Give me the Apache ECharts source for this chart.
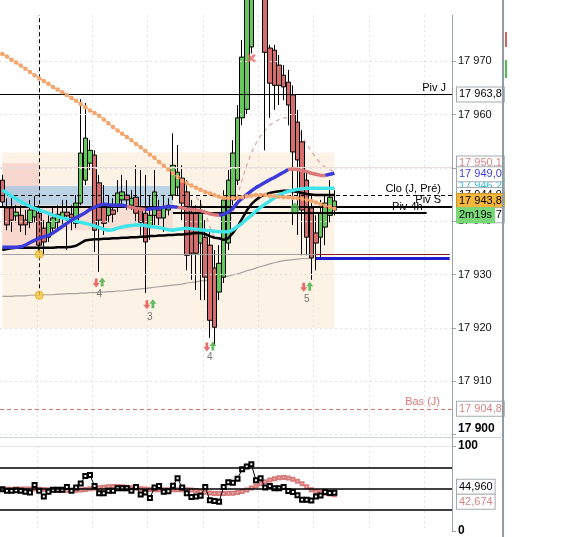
<!DOCTYPE html>
<html><head><meta charset="utf-8">
<script src="https://cdn.jsdelivr.net/npm/echarts@6/dist/echarts.min.js"></script>
<style>html,body{margin:0;padding:0;background:#fff}#c{width:572px;height:537px}</style>
</head><body><div id="c"></div>
<script>
// ---------- DATA ----------
const N_CAT = 98;
const opens = [17947.7,17942.5,17942.5,17941.0,17941.1,17940.2,17939.8,17940.8,17941.5,17938.7,
17937.0,17938.7,17939.8,17940.6,17941.7,17941.3,17939.6,17943.4,17947.7,17950.9,
17952.4,17947.2,17943.0,17941.1,17942.1,17943.0,17944.0,17944.9,17943.0,17944.5,
17942.5,17941.5,17938.9,17941.1,17942.1,17940.6,17942.1,17944.9,17946.4,17948.1,
17945.5,17941.7,17941.5,17935.9,17937.0,17935.5,17931.2,17926.7,17929.5,17935.9,
17944.0,17947.7,17959.4,17961.0,17972.7,17985.0,17990.0,17984.0,17972.5,17972.1,
17969.3,17967.4,17966.1,17963.7,17958.6,17954.9,17947.7,17942.5,17937.8,17937.0,
17938.9,17941.1,17942.1];
const closes = [17943.6,17939.3,17940.2,17941.7,17939.3,17939.3,17942.1,17942.1,17935.5,17936.1,
17939.8,17940.6,17941.3,17941.7,17941.0,17940.6,17943.4,17952.8,17955.6,17953.3,
17938.3,17940.2,17939.6,17943.0,17941.3,17945.3,17945.5,17944.0,17944.3,17941.5,
17939.8,17936.1,17941.1,17945.5,17940.6,17942.5,17943.0,17950.5,17949.2,17943.4,
17933.6,17934.0,17934.0,17941.7,17929.5,17921.4,17920.1,17932.1,17944.0,17947.7,
17952.8,17959.4,17970.8,17982.0,17985.0,17990.0,17984.0,17971.7,17965.9,17965.5,
17965.5,17965.2,17961.8,17953.0,17951.5,17942.1,17937.0,17933.1,17935.9,17941.5,
17943.4,17944.5,17943.8];
const lows = [17942.8,17938.3,17938.0,17939.8,17938.0,17937.4,17938.7,17939.8,17934.2,17933.6,
17936.1,17937.6,17938.7,17939.5,17934.6,17938.3,17938.7,17943.0,17946.8,17949.6,
17934.2,17930.5,17937.4,17939.8,17939.8,17941.7,17943.0,17942.1,17942.1,17939.8,
17937.4,17926.5,17936.5,17939.3,17939.3,17938.0,17941.1,17944.0,17944.9,17940.2,
17930.8,17929.0,17927.1,17925.2,17925.2,17918.1,17916.8,17925.2,17928.4,17934.6,
17943.0,17946.8,17958.0,17960.0,17971.5,17983.0,17981.0,17953.3,17959.4,17960.9,
17961.8,17962.7,17958.0,17939.3,17937.4,17933.6,17933.6,17929.0,17930.8,17932.7,
17935.5,17939.8,17941.1];
const highs = [17948.7,17944.3,17944.9,17943.0,17943.0,17942.1,17944.0,17944.7,17943.0,17940.2,
17941.1,17942.5,17943.0,17944.0,17944.0,17943.0,17944.9,17962.9,17962.2,17955.2,
17953.3,17948.7,17946.8,17944.9,17944.3,17947.7,17948.7,17947.7,17945.8,17950.5,
17949.6,17948.7,17944.9,17949.6,17944.0,17944.9,17944.3,17956.5,17954.3,17950.5,
17947.7,17944.0,17943.0,17944.0,17940.2,17938.3,17934.6,17935.5,17945.8,17949.6,
17955.2,17961.8,17974.0,17984.0,17987.0,17992.0,17993.0,17986.0,17973.1,17973.1,
17971.2,17969.3,17968.4,17965.5,17960.9,17957.1,17949.6,17944.9,17941.1,17944.0,
17944.9,17947.7,17945.8];

const maOrange = [17971.4,17970.9,17970.3,17969.8,17969.2,17968.6,17968.0,17967.4,17966.8,17966.3,
17965.8,17965.2,17964.7,17964.2,17963.7,17963.1,17962.6,17962.0,17961.4,17960.8,
17960.3,17959.8,17959.1,17958.4,17957.7,17957.0,17956.4,17955.8,17955.2,17954.5,
17953.9,17953.2,17952.5,17951.9,17951.1,17950.4,17949.7,17949.0,17948.3,17947.6,
17947.1,17946.7,17946.3,17945.9,17945.5,17945.2,17944.9,17944.6,17944.4,17944.3,
17944.3,17944.4,17944.5,17944.7,17944.8,17944.9,17944.9,17944.9,17944.8,17944.7,
17944.6,17944.5,17944.5,17944.4,17944.3,17944.2,17944.0,17943.8,17943.5,17943.2,
17942.9,17942.7,17942.4];
const maMid = [17935.1,17935.1,17935.1,17935.1,17935.2,17935.5,17936.0,17936.4,17936.8,17937.1,
17937.3,17937.8,17938.4,17939.0,17939.6,17940.2,17940.7,17941.1,17941.6,17942.2,
17942.6,17943.0,17943.2,17943.1,17943.0,17943.0,17943.0,17942.8,17942.6,17942.4,
17942.3,17942.2,17942.3,17942.4,17942.5,17942.6,17942.7,17942.7,17942.6,17942.5,
17942.3,17942.2,17942.1,17942.0,17941.7,17941.4,17941.2,17941.1,17941.3,17941.7,
17942.4,17943.5,17944.3,17945.0,17945.7,17946.3,17946.8,17947.3,17947.8,17948.2,
17948.7,17949.2,17949.7,17949.8,17949.7,17949.5,17949.3,17949.0,17948.8,17948.6,
17948.6,17948.8,17949.0];
const maMidFalling = [[27,31],[38,47],[62,70]];
const maCyan = [17945.8,17945.3,17944.7,17944.2,17943.7,17943.2,17942.8,17942.4,17942.1,17941.8,
17941.5,17941.1,17940.9,17940.6,17940.4,17940.2,17940.0,17939.8,17939.6,17939.4,
17939.1,17938.8,17938.5,17938.3,17938.4,17938.7,17938.9,17939.1,17939.2,17939.3,
17939.3,17939.2,17939.0,17938.9,17938.8,17938.6,17938.4,17938.3,17938.5,17938.6,
17938.7,17938.6,17938.5,17938.4,17938.3,17938.2,17938.1,17938.0,17938.0,17938.0,
17938.4,17939.0,17939.6,17940.4,17941.1,17941.9,17942.6,17943.2,17943.8,17944.4,
17944.9,17945.3,17945.6,17945.8,17946.0,17946.1,17946.2,17946.2,17946.2,17946.2,
17946.2,17946.2,17946.2];
const maBlack = [17934.6,17934.8,17934.9,17935.0,17935.0,17935.0,17935.0,17935.0,17935.0,17935.0,
17935.0,17935.0,17935.1,17935.1,17935.1,17935.2,17935.4,17935.9,17936.4,17936.5,
17936.6,17936.6,17936.7,17936.7,17936.8,17936.8,17936.9,17936.9,17937.0,17937.0,
17937.1,17937.1,17937.2,17937.2,17937.3,17937.3,17937.4,17937.4,17937.5,17937.5,
17937.6,17937.7,17937.8,17937.8,17937.6,17937.2,17936.9,17936.8,17936.5,17936.8,
17937.8,17939.0,17940.5,17942.0,17943.2,17944.0,17944.6,17945.0,17945.3,17945.5,
17945.6,17945.7,17945.7,17945.6,17945.5,17945.3,17945.1,17945.0,17944.9,17944.9,
17944.9,17944.9,17944.9];
const maGrey = [17925.9,17925.9,17925.9,17926.0,17926.0,17926.0,17926.1,17926.1,17926.1,17926.2,
17926.2,17926.2,17926.3,17926.3,17926.4,17926.4,17926.4,17926.5,17926.5,17926.6,
17926.6,17926.7,17926.7,17926.8,17926.8,17926.9,17926.9,17927.0,17927.1,17927.2,
17927.3,17927.4,17927.5,17927.6,17927.7,17927.8,17927.9,17928.0,17928.1,17928.2,
17928.4,17928.5,17928.6,17928.8,17928.9,17929.0,17929.2,17929.4,17929.5,17929.7,
17929.9,17930.1,17930.4,17930.7,17930.9,17931.2,17931.5,17931.7,17932.0,17932.2,
17932.4,17932.6,17932.7,17932.8,17932.9,17933.0,17933.0,17933.1];
const sarStart = 42;
const sarPink = [17944.5,17943.5,17941.5,17939.0,17937.0,17936.5,17937.5,17939.0,17941.5,17944.8,
17947.8,17950.5,17952.8,17954.6,17956.0,17957.1,17958.0,17958.6,17959.1,17959.4,
17959.4,17958.8,17957.4,17955.9,17954.5,17953.1,17951.9,17950.9,17950.1,17949.6,17949.3];

const oscBlack = [49.2,47.4,47.4,48.0,47.4,46.3,45.2,54.1,47.4,40.7,
46.3,48.6,48.6,48.6,51.8,47.4,51.1,55.9,64.8,65.9,
53.0,44.4,44.4,47.4,47.4,50.4,50.4,50.4,47.4,51.8,
43.0,45.2,38.9,51.1,53.0,46.3,46.7,53.3,62.2,51.1,
44.4,40.0,40.7,41.5,51.8,36.3,35.2,34.4,51.8,57.4,
56.7,61.5,72.6,75.9,78.5,59.6,62.2,51.1,53.0,50.4,
50.4,51.8,47.0,45.9,42.2,36.7,36.7,35.9,40.7,41.9,
45.9,44.8,44.96];
const oscPink = [49.0,49.1,49.2,49.3,49.4,49.5,49.4,49.3,49.1,48.8,
48.5,48.2,48.0,47.8,47.7,47.7,47.9,48.3,48.9,49.6,
50.3,51.0,51.6,52.0,52.3,52.3,52.0,51.6,51.0,50.4,
49.8,49.3,48.9,48.6,48.5,48.4,48.4,48.4,48.5,48.5,
48.4,48.2,47.6,46.6,45.5,44.6,44.2,44.2,44.2,44.3,
44.5,45.2,46.5,48.3,50.5,53.0,55.6,58.0,60.0,61.6,
62.6,63.0,62.5,61.0,58.5,55.5,52.0,48.5,46.5,45.2,
44.3,43.4,42.674];
const oscLevels = [75, 50, 25];

const priceTicks = [17900,17910,17920,17930,17940,17950,17960,17970];
const pivJ = 17963.8, cloJ = 17944.9, pivS = 17942.8, piv4h = 17941.6, basJ = 17904.8;
const line17950 = 17950.1, greyLevel = 17933.8, blueLevel = 17933.0;
const lastPrice = 17943.8, lastMid = 17949.0, lastCyan = 17946.2;
const piv4hLabel = 17941.7, timerText = '2m19s';
const dashK = 8, dotPrices = [17933.8, 17926.1];
const signalK = [21, 32, 45, 66];
const signalArrowPrice = [17928.4, 17924.3, 17916.4, 17927.6];
const signalNumPrice = [17926.3, 17922.0, 17914.5, 17925.4];
const signalNum = ['4','3','4','5'];
const crossK = 54, crossPrice = 17970.6;
const houseK = 63, housePrice = 17942.6;
const zonePeach = {k:[0,72], p:[17952.9,17919.9]};
const zonePinkA = {k:[0,8], p:[17950.9,17935.1]};
const zoneBlue = {k:[0,37], p:[17946.6,17943.0]};
const zonePinkB = {k:[8,37], p:[17943.0,17938.3]};
const levelStartK = 68, piv4hRange = [37, 92];

// ---------- BUILD ----------
const FONT = 'Liberation Sans, Arial, sans-serif';
const cats = Array.from({length:N_CAT}, (_, i) => String(i));
const candleData = opens.map((o, i) => [o, closes[i], lows[i], highs[i]]);
const fmtP = v => { const s = v.toFixed(1).replace('.', ','); return s.slice(0,2) + ' ' + s.slice(2); };
const isFalling = i => maMidFalling.some(r => i >= r[0] && i <= r[1]);
const midBlue = maMid.map((v, i) => (!isFalling(i) || !isFalling(i-1) || !isFalling(i+1)) ? v : '-');
const midRed = maMid.map((v, i) => isFalling(i) ? v : '-');
const sarData = cats.map((c, i) => (i >= sarStart && i - sarStart < sarPink.length) ? sarPink[i - sarStart] : '-');

const boxLabel = (text, color, extra) => Object.assign({
  show: true, position: 'end', distance: 5, formatter: text, color: color,
  fontSize: 11, fontFamily: FONT, backgroundColor: '#fff', borderColor: '#a3abb2',
  borderWidth: 1, padding: [2, 2, 1, 2]
}, extra || {});
const hidden = {color: 'rgba(0,0,0,0)', width: 1, type: 'solid'};
const txt = (t, color, dist, dx) => ({show: true, position: 'insideEndTop', formatter: t, color: color, fontSize: 11, fontFamily: FONT, distance: dist, offset: [dx, 0]});

const upArrow = 'path://M5,0 L10,5 L7,5 L7,10 L3,10 L3,5 L0,5 Z';
const house = 'path://M5,0 L10,4 L10,10 L0,10 L0,4 Z';
const xShape = 'path://M0,2 L2,0 L5,3 L8,0 L10,2 L7,5 L10,8 L8,10 L5,7 L2,10 L0,8 L3,5 Z';

const xAxisBase = {
  type: 'category', data: cats, boundaryGap: true,
  axisLine: {show: false}, axisTick: {show: false}, axisLabel: {show: false},
  splitLine: {show: true, interval: (i) => i % 12 === 8, lineStyle: {color: '#e3e3e3', type: [2, 3]}}
};

const zoneItem = (z, color) => [{coord: [z.k[0], z.p[0]], itemStyle: {color}}, {coord: [z.k[1], z.p[1]]}];

const option = {
  animation: false,
  backgroundColor: '#fff',
  grid: [
    {left: -1, right: 120, top: 15, height: 422},
    {left: -1, right: 120, top: 446, height: 90}
  ],
  xAxis: [Object.assign({gridIndex: 0}, xAxisBase), Object.assign({gridIndex: 1}, xAxisBase)],
  yAxis: [
    {gridIndex: 0, position: 'right', min: 17899.5, max: 17978.7, scale: true,
     axisLine: {show: true, lineStyle: {color: '#9aa3ab'}},
     axisTick: {show: true, length: 4, lineStyle: {color: '#9aa3ab'}, customValues: priceTicks},
     axisLabel: {show: true, margin: 6, color: '#111', fontSize: 11, fontFamily: FONT, customValues: priceTicks,
       formatter: v => { const s = String(Math.round(v)); const t = s.slice(0,2) + ' ' + s.slice(2); return v === 17900 ? '{b|' + t + '}' : t; },
       rich: {b: {fontWeight: 'bold', fontSize: 12, fontFamily: FONT, color: '#000', padding: [0, 0, 12, 0]}}},
     splitLine: {show: false}},
    {gridIndex: 1, position: 'right', min: 0, max: 100,
     axisLine: {show: true, lineStyle: {color: '#9aa3ab'}},
     axisTick: {show: true, length: 4, lineStyle: {color: '#9aa3ab'}, customValues: [0, 100]},
     axisLabel: {show: true, margin: 6, color: '#000', fontSize: 12, fontWeight: 'bold', fontFamily: FONT, customValues: [0, 100]},
     splitLine: {show: false}}
  ],
  series: [
    {type: 'line', xAxisIndex: 0, yAxisIndex: 0, data: [], silent: true, z: 1,
     markArea: {silent: true, data: [
       zoneItem(zonePeach, 'rgba(250,226,200,0.45)'),
       zoneItem(zonePinkA, 'rgba(238,175,170,0.40)'),
       zoneItem(zonePinkB, 'rgba(238,175,170,0.30)'),
       zoneItem(zoneBlue, 'rgba(150,195,230,0.65)')
     ]},
     markLine: {silent: true, symbol: ['none', 'none'], label: {show: false}, data: [
       ...priceTicks.map(p => ({yAxis: p, lineStyle: {color: '#e2e2e2', type: [2, 3], width: 1}})),
       {yAxis: line17950, lineStyle: {color: '#ecdcdc', type: 'solid', width: 1}}
     ]}},
    {type: 'line', name: 'grey', data: maGrey, symbol: 'none', lineStyle: {color: '#a8a29c', width: 1.2}, z: 3},
    {type: 'line', name: 'sar', data: sarData, symbol: 'none', lineStyle: {color: '#dba2a2', width: 1.2, type: [4, 4]}, z: 3},
    {type: 'candlestick', data: candleData, barWidth: 5, z: 4, clip: true,
     itemStyle: {color: '#64c95a', color0: '#d66d6d', borderColor: '#000', borderColor0: '#000', borderWidth: 1}},
    {type: 'line', name: 'orange', data: maOrange, symbol: 'emptyCircle', symbolSize: 2.5, showSymbol: true, showAllSymbol: true,
     itemStyle: {color: '#f4a46a', borderWidth: 1}, lineStyle: {color: '#f08a4b', width: 1}, z: 5},
    {type: 'line', name: 'black', data: maBlack, symbol: 'none', lineStyle: {color: '#000', width: 2.5}, z: 5},
    {type: 'line', name: 'cyan', data: maCyan, symbol: 'none', lineStyle: {color: '#3fe3ea', width: 3.5}, z: 5},
    {type: 'line', name: 'midBlue', data: midBlue, symbol: 'none', lineStyle: {color: '#3b3bd9', width: 3.5}, z: 5},
    {type: 'line', name: 'midRed', data: midRed, symbol: 'none', lineStyle: {color: '#d9797a', width: 3.5}, z: 6},
    {type: 'line', xAxisIndex: 0, yAxisIndex: 0, data: [], silent: true, z: 7,
     markLine: {silent: true, symbol: ['none', 'none'], data: [
       {yAxis: pivJ, lineStyle: {color: '#000', width: 1, type: 'solid'}, label: txt('Piv J', '#000', 1, -5)},
       {yAxis: cloJ, lineStyle: {color: '#000', width: 1, type: [4, 3]}, label: txt('Clo (J, Pré)', '#000', 1, -10)},
       {yAxis: pivS, lineStyle: {color: '#000', width: 2, type: 'solid'}, label: txt('Piv S', '#000', 1, -10)},
       [{coord: [piv4hRange[0], piv4h], lineStyle: {color: '#000', width: 2, type: 'solid'}, label: txt('Piv 4h', '#000', 0, -4)},
        {coord: [piv4hRange[1], piv4h]}],
       {yAxis: basJ, lineStyle: {color: '#e07878', width: 1, type: [4, 3]}, label: txt('Bas (J)', '#e07878', 1, -11)},
       [{coord: [0, greyLevel], lineStyle: {color: '#a0a0a0', width: 1, type: 'solid'}, label: {show: false}}, {coord: [levelStartK, greyLevel]}],
       [{coord: [levelStartK, greyLevel], lineStyle: {color: '#8b1c1c', width: 1, type: 'solid'}, label: {show: false}}, {coord: [N_CAT - 1, greyLevel]}],
       [{coord: [levelStartK, blueLevel], lineStyle: {color: '#1f1fd0', width: 3, type: 'solid'}, label: {show: false}}, {coord: [N_CAT - 1, blueLevel]}],
       [{coord: [dashK, dotPrices[1]], lineStyle: {color: '#000', width: 1, type: [4, 3]}, label: {show: false}}, {coord: [dashK, 17978.7]}]
     ]}},
    {type: 'scatter', data: dotPrices.map(p => [dashK, p]), symbol: 'circle', symbolSize: 8, z: 8,
     itemStyle: {color: '#f5c845', borderColor: '#e2a91e', borderWidth: 1}},
    {type: 'scatter', data: signalK.map((k, i) => [k, signalArrowPrice[i]]), symbol: upArrow, symbolSize: [7, 9],
     symbolRotate: 180, symbolOffset: [-3, 0], z: 8, itemStyle: {color: '#e04848'}},
    {type: 'scatter', data: signalK.map((k, i) => [k, signalArrowPrice[i]]), symbol: upArrow, symbolSize: [7, 9],
     symbolOffset: [3, -1], z: 8, itemStyle: {color: '#3fae3f'}},
    {type: 'scatter', data: signalK.map((k, i) => [k, signalNumPrice[i]]), symbolSize: 1, z: 8, itemStyle: {color: 'rgba(0,0,0,0)'},
     label: {show: true, position: 'inside', formatter: p => signalNum[p.dataIndex], color: '#555', fontSize: 10, fontFamily: FONT}},
    {type: 'scatter', data: [[crossK, crossPrice]], symbol: xShape, symbolSize: 9, z: 8, itemStyle: {color: '#e86a6a'}},
    {type: 'scatter', data: [[houseK, housePrice]], symbol: house, symbolSize: [8, 10], symbolOffset: [2, 0], z: 8, itemStyle: {color: '#4caf50'}},
    {type: 'line', xAxisIndex: 0, yAxisIndex: 0, data: [], silent: true, z: 20,
     markLine: {silent: true, symbol: ['none', 'none'], lineStyle: hidden, data: [
       {yAxis: pivJ, lineStyle: hidden, label: boxLabel(fmtP(pivJ), '#000')},
       {yAxis: line17950, lineStyle: hidden, label: boxLabel(fmtP(line17950), '#d98585', {offset: [0, -4]})},
       {yAxis: lastCyan, lineStyle: hidden, label: boxLabel(fmtP(lastCyan), '#2fc7d4', {offset: [0, -2]})},
       {yAxis: cloJ, lineStyle: hidden, label: boxLabel(fmtP(cloJ), '#000', {offset: [0, 0]})},
       {yAxis: lastMid, lineStyle: hidden, label: boxLabel(fmtP(lastMid), '#3c3cd8', {offset: [0, 1]})},
       {yAxis: lastPrice, lineStyle: hidden, label: boxLabel(fmtP(lastPrice), '#000', {backgroundColor: '#f6b63a', borderColor: '#c9952c'})},
       {yAxis: piv4hLabel, lineStyle: hidden, label: boxLabel(fmtP(piv4hLabel), '#000', {offset: [0, 3]})},
       {yAxis: piv4hLabel, lineStyle: hidden, label: boxLabel(timerText, '#000', {offset: [0, 3], backgroundColor: '#78d878', borderColor: '#78d878'})},
       {yAxis: basJ, lineStyle: hidden, label: boxLabel(fmtP(basJ), '#d98585')}
     ]}},
    {type: 'line', xAxisIndex: 1, yAxisIndex: 1, data: [], silent: true, z: 2,
     markLine: {silent: true, symbol: ['none', 'none'], label: {show: false}, data: [
       {yAxis: 100, lineStyle: {color: '#e6e6e6', width: 1, type: 'solid'}},
       ...oscLevels.map(v => ({yAxis: v, lineStyle: {color: '#000', width: 1.5, type: 'solid'}}))
     ]}},
    {type: 'line', xAxisIndex: 1, yAxisIndex: 1, data: oscPink, symbol: 'emptyRect', symbolSize: 3, showSymbol: true, showAllSymbol: true,
     itemStyle: {color: '#d77a7a', borderWidth: 1}, lineStyle: {color: '#d77a7a', width: 1}, z: 3},
    {type: 'line', xAxisIndex: 1, yAxisIndex: 1, data: oscBlack, symbol: 'emptyRect', symbolSize: 4, showSymbol: true, showAllSymbol: true,
     itemStyle: {color: '#000', borderWidth: 1}, lineStyle: {color: '#000', width: 1}, z: 4},
    {type: 'line', xAxisIndex: 1, yAxisIndex: 1, data: [], silent: true, z: 20,
     markLine: {silent: true, symbol: ['none', 'none'], lineStyle: hidden, data: [
       {yAxis: oscBlack[oscBlack.length - 1], lineStyle: hidden,
        label: boxLabel(oscBlack[oscBlack.length - 1].toFixed(3).replace('.', ','), '#000', {offset: [0, -6]})},
       {yAxis: oscPink[oscPink.length - 1], lineStyle: hidden,
        label: boxLabel(oscPink[oscPink.length - 1].toFixed(3).replace('.', ','), '#d98585', {offset: [0, 7]})}
     ]}}
  ],
  graphic: [
    {type: 'line', shape: {x1: 503, y1: 0, x2: 503, y2: 537}, style: {stroke: '#8f9ba6', lineWidth: 2}, z: 100},
    {type: 'line', shape: {x1: 0, y1: 437.5, x2: 503, y2: 437.5}, style: {stroke: '#cfd5da', lineWidth: 1}, z: 100},
    {type: 'line', shape: {x1: 452.5, y1: 437, x2: 452.5, y2: 446}, style: {stroke: '#9aa3ab', lineWidth: 1}, z: 100},
    {type: 'rect', shape: {x: 505, y: 32, width: 2, height: 15}, style: {fill: '#d46060'}, z: 100},
    {type: 'rect', shape: {x: 505, y: 60, width: 2, height: 18}, style: {fill: '#4cbf4c'}, z: 100}
  ]
};
const chart = echarts.init(document.getElementById('c'));
chart.setOption(option);
</script>
</body></html>
